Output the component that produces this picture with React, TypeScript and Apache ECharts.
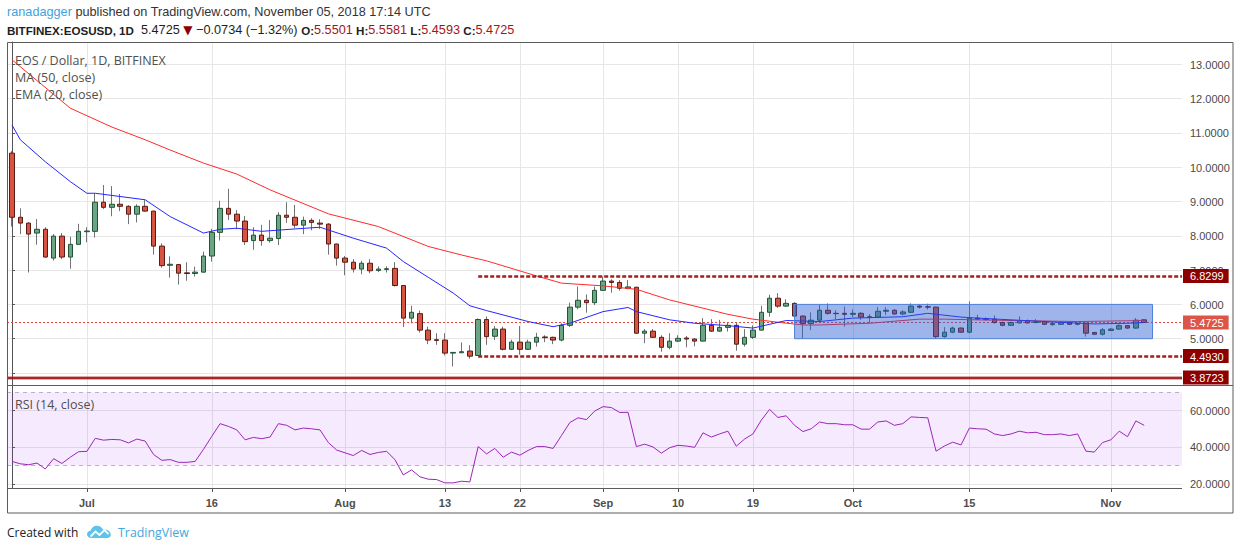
import React, { useEffect, useRef } from "react";
import * as echarts from "echarts";

// ---------- data ----------
const START_DATE = "2018-06-22";

// one row per day from START_DATE: [open, high, low, close]
const ohlc: number[][] = [
  // Jun 22 - Jun 30
  [10.41, 10.47, 8.27, 8.54], [8.54, 8.8, 8.05, 8.37], [8.37, 8.4, 6.93, 8.05], [8.08, 8.49, 7.74, 8.19],
  [8.19, 8.25, 7.36, 7.38], [7.35, 8.05, 7.28, 7.99], [7.99, 8.08, 7.32, 7.38], [7.38, 7.97, 7.04, 7.75],
  [7.75, 8.35, 7.74, 8.13],
  // Jul 1 - Jul 31
  [8.12, 8.25, 7.81, 8.14], [8.13, 9.24, 7.95, 8.98], [8.98, 9.48, 8.78, 8.83], [8.83, 9.45, 8.57, 8.92],
  [8.92, 9.22, 8.72, 8.86], [8.86, 8.89, 8.34, 8.63], [8.63, 8.92, 8.39, 8.86], [8.86, 9.04, 8.7, 8.72],
  [8.72, 8.73, 7.45, 7.7], [7.7, 7.78, 7.07, 7.13], [7.14, 7.4, 6.78, 7.17], [7.16, 7.18, 6.58, 6.91],
  [6.92, 7.23, 6.69, 6.9], [6.9, 7.1, 6.81, 6.94], [6.94, 7.54, 6.93, 7.41], [7.41, 8.2, 7.25, 8.1],
  [8.1, 9.02, 7.86, 8.8], [8.8, 9.37, 8.46, 8.63], [8.63, 8.75, 8.19, 8.43], [8.43, 8.58, 7.73, 7.83],
  [7.86, 8.25, 7.59, 8.02], [8.02, 8.32, 7.71, 7.86], [7.86, 8.46, 7.8, 7.93], [7.92, 8.69, 7.73, 8.6],
  [8.6, 8.98, 8.38, 8.54], [8.54, 8.9, 8.22, 8.31], [8.31, 8.56, 8.05, 8.45], [8.45, 8.51, 8.16, 8.39],
  [8.37, 8.48, 8.2, 8.34], [8.34, 8.37, 7.45, 7.76], [7.76, 7.77, 7.13, 7.35],
  // Aug 1 - Aug 31
  [7.35, 7.41, 6.85, 7.23], [7.23, 7.32, 6.93, 7.03], [7.03, 7.27, 6.88, 7.2], [7.2, 7.32, 6.91, 6.98],
  [6.99, 7.11, 6.94, 7.03], [7.02, 7.11, 6.93, 7.04], [7.05, 7.23, 6.52, 6.55], [6.55, 6.56, 5.34, 5.6],
  [5.6, 5.96, 5.45, 5.77], [5.73, 5.82, 5.18, 5.25], [5.25, 5.35, 4.84, 4.96], [4.97, 5.16, 4.82, 4.95],
  [4.96, 5.16, 4.51, 4.58], [4.58, 4.61, 4.19, 4.6], [4.59, 4.89, 4.58, 4.62], [4.64, 4.81, 4.42, 4.49],
  [4.51, 5.59, 4.5, 5.56], [5.56, 5.65, 4.82, 5.06], [5.07, 5.37, 4.96, 5.28], [5.28, 5.35, 4.66, 4.69],
  [4.69, 4.97, 4.67, 4.9], [4.9, 5.37, 4.53, 4.69], [4.69, 4.97, 4.67, 4.9], [4.9, 5.17, 4.77, 5.04],
  [5.05, 5.1, 4.9, 5.03], [5.04, 5.06, 4.84, 4.96], [4.96, 5.45, 4.92, 5.39], [5.39, 6.05, 5.34, 5.92],
  [5.92, 6.52, 5.86, 6.12], [6.12, 6.29, 5.76, 6.05], [6.05, 6.52, 5.98, 6.41],
  // Sep 1 - Sep 30
  [6.41, 6.81, 6.4, 6.68], [6.68, 6.73, 6.34, 6.64], [6.64, 6.71, 6.4, 6.47], [6.47, 6.71, 6.44, 6.51],
  [6.5, 6.51, 5.15, 5.16], [5.16, 5.28, 4.87, 5.22], [5.22, 5.28, 5.02, 5.04], [5.04, 5.1, 4.62, 4.75],
  [4.75, 5.16, 4.69, 4.93], [4.93, 5.1, 4.9, 5.01], [5.02, 5.08, 4.75, 4.99], [4.99, 5.01, 4.78, 4.93],
  [4.93, 5.6, 4.92, 5.39], [5.39, 5.57, 5.2, 5.22], [5.22, 5.55, 5.2, 5.33], [5.33, 5.47, 5.21, 5.39],
  [5.39, 5.47, 4.65, 4.84], [4.84, 5.28, 4.77, 5.04], [5.04, 5.39, 4.99, 5.25], [5.25, 5.96, 5.24, 5.77],
  [5.77, 6.28, 5.64, 6.18], [6.18, 6.33, 5.9, 5.95], [5.95, 6.15, 5.93, 6.03], [6.03, 6.06, 5.6, 5.66],
  [5.66, 5.68, 5.01, 5.44], [5.44, 5.77, 5.25, 5.54], [5.54, 5.99, 5.45, 5.83], [5.83, 6.03, 5.7, 5.74],
  [5.74, 5.83, 5.57, 5.73], [5.74, 5.94, 5.35, 5.71],
  // Oct 1 - Oct 31
  [5.71, 5.85, 5.63, 5.74], [5.74, 5.78, 5.55, 5.63], [5.64, 5.72, 5.46, 5.62], [5.63, 5.92, 5.6, 5.8],
  [5.8, 5.92, 5.69, 5.83], [5.83, 5.86, 5.7, 5.72], [5.72, 5.83, 5.68, 5.78], [5.77, 6.03, 5.75, 5.95],
  [5.95, 5.98, 5.88, 5.92], [5.93, 6.02, 5.85, 5.92], [5.92, 5.93, 5.0, 5.06], [5.06, 5.34, 5.03, 5.19],
  [5.19, 5.35, 5.16, 5.31], [5.31, 5.33, 5.17, 5.19], [5.19, 6.09, 5.16, 5.6], [5.6, 5.7, 5.54, 5.57],
  [5.58, 5.62, 5.52, 5.56], [5.57, 5.68, 5.44, 5.47], [5.47, 5.5, 5.36, 5.39], [5.39, 5.5, 5.37, 5.47],
  [5.46, 5.65, 5.44, 5.53], [5.53, 5.56, 5.44, 5.46], [5.47, 5.57, 5.45, 5.5], [5.5, 5.52, 5.4, 5.42],
  [5.41, 5.47, 5.38, 5.44], [5.42, 5.5, 5.4, 5.47], [5.47, 5.49, 5.4, 5.42], [5.42, 5.47, 5.39, 5.44],
  [5.45, 5.47, 5.06, 5.16], [5.18, 5.2, 5.11, 5.13], [5.13, 5.31, 5.09, 5.26],
  // Nov 1 - Nov 5
  [5.24, 5.31, 5.22, 5.28], [5.28, 5.42, 5.26, 5.38], [5.38, 5.4, 5.29, 5.31], [5.31, 5.6, 5.29, 5.54],
  [5.5501, 5.5581, 5.4593, 5.4725],
];

// MA (50, close): [date, value]
const ma50: [string, number][] = [
  ["2018-06-22", 13.13], ["2018-06-29", 11.72], ["2018-07-01", 11.5], ["2018-07-04", 11.17],
  ["2018-07-08", 10.8], ["2018-07-11", 10.5], ["2018-07-15", 10.12], ["2018-07-19", 9.8],
  ["2018-07-23", 9.34], ["2018-07-30", 8.64], ["2018-08-05", 8.27], ["2018-08-11", 7.69],
  ["2018-08-15", 7.44], ["2018-08-18", 7.27], ["2018-08-24", 6.83], ["2018-08-27", 6.62],
  ["2018-09-01", 6.54], ["2018-09-05", 6.44], ["2018-09-09", 6.13], ["2018-09-13", 5.89],
  ["2018-09-16", 5.71], ["2018-09-19", 5.57], ["2018-09-22", 5.48], ["2018-09-25", 5.4],
  ["2018-09-27", 5.4], ["2018-10-03", 5.45], ["2018-10-09", 5.57], ["2018-10-12", 5.57],
  ["2018-10-20", 5.53], ["2018-10-28", 5.5], ["2018-11-05", 5.53],
];

// EMA (20, close): [date, value]
const ema20: [string, number][] = [
  ["2018-06-22", 11.23], ["2018-06-23", 10.8], ["2018-06-26", 10.16], ["2018-06-29", 9.58],
  ["2018-07-01", 9.24], ["2018-07-02", 9.24], ["2018-07-08", 9.05], ["2018-07-11", 8.56],
  ["2018-07-15", 8.08], ["2018-07-17", 8.19], ["2018-07-19", 8.22], ["2018-07-22", 8.13],
  ["2018-07-26", 8.2], ["2018-07-29", 8.25], ["2018-08-02", 7.93], ["2018-08-06", 7.64],
  ["2018-08-08", 7.25], ["2018-08-11", 6.79], ["2018-08-14", 6.33], ["2018-08-16", 5.96],
  ["2018-08-18", 5.82], ["2018-08-23", 5.5], ["2018-08-26", 5.35], ["2018-08-28", 5.45],
  ["2018-09-01", 5.79], ["2018-09-04", 5.91], ["2018-09-05", 5.79], ["2018-09-09", 5.55],
  ["2018-09-12", 5.45], ["2018-09-16", 5.38], ["2018-09-19", 5.31], ["2018-09-23", 5.53],
  ["2018-09-27", 5.5], ["2018-10-01", 5.6], ["2018-10-07", 5.64], ["2018-10-10", 5.74],
  ["2018-10-14", 5.63], ["2018-10-16", 5.6], ["2018-10-24", 5.5], ["2018-10-30", 5.43],
  ["2018-11-03", 5.45], ["2018-11-05", 5.47],
];

// RSI (14, close), one value per day
const rsi: number[] = [
  32.3, 31.0, 30.5, 31.4, 28.2, 33.8, 31.2, 34.6, 37.6, 37.8,
  44.9, 43.9, 44.3, 44.1, 42.4, 44.5, 43.4, 36.1, 32.9, 33.3,
  31.8, 31.8, 32.3, 38.9, 46.0, 52.9, 51.4, 49.5, 44.1, 45.4,
  44.7, 45.6, 52.9, 52.0, 49.5, 50.5, 50.1, 49.5, 42.6, 38.5,
  37.0, 35.5, 38.3, 36.1, 37.2, 37.8, 33.3, 24.9, 27.7, 23.9,
  22.6, 22.4, 20.6, 20.6, 21.5, 21.1, 40.4, 36.4, 39.4, 34.6,
  37.4, 35.7, 38.3, 40.4, 40.4, 39.4, 46.4, 53.5, 56.1, 55.1,
  59.8, 62.2, 61.7, 59.0, 59.1, 40.4, 41.7, 40.2, 36.8, 39.8,
  41.1, 40.7, 40.0, 47.9, 45.6, 47.3, 48.8, 40.6, 44.5, 47.3,
  54.8, 60.7, 56.3, 57.2, 52.0, 48.6, 50.1, 53.8, 52.9, 52.9,
  52.3, 52.3, 49.9, 49.9, 53.8, 54.4, 52.0, 52.9, 56.6, 56.3,
  56.1, 37.9, 40.7, 42.8, 41.3, 50.5, 50.1, 49.9, 47.3, 46.4,
  47.3, 48.8, 47.9, 48.2, 46.9, 46.9, 47.3, 46.4, 47.3, 37.9,
  37.4, 42.6, 44.1, 48.8, 45.8, 54.4, 52.0,
];

const tickDates = [
  "2018-07-01", "2018-07-16", "2018-08-01", "2018-08-13", "2018-08-22", "2018-09-01",
  "2018-09-10", "2018-09-19", "2018-10-01", "2018-10-15", "2018-11-01",
];
const tickLabels = ["Jul", "16", "Aug", "13", "22", "Sep", "10", "19", "Oct", "15", "Nov"];
const priceTicks = [4, 5, 6, 7, 8, 9, 10, 11, 12, 13];
const priceLabels = [5, 6, 7, 8, 9, 10, 11, 12, 13];
const rsiTicks = [20, 40, 60];
const rsiBand = [30, 70];

const resistance = 6.8299;
const support = 4.493;
const lowLine = 3.8723;
const lastPrice = 5.4725;
const levelsStart = "2018-08-17";
const boxFrom = "2018-09-24";
const boxTo = "2018-11-06";
const boxTop = 6.0;
const boxBottom = 5.0;

// ---------- helpers ----------
const DAY = 86400000;
function utc(s: string) {
  const [y, m, d] = s.split("-").map(Number);
  return Date.UTC(y, m - 1, d);
}
const T0 = utc(START_DATE);
function dayIndex(s: string) {
  return Math.round((utc(s) - T0) / DAY);
}

const X_MIN = -0.6;
const X_MAX = 140.54;
const AXIS_FONT = '"Liberation Sans", Arial, sans-serif';
const UI_FONT = '"Open Sans", "Liberation Sans", sans-serif';

const LOGO_D =
  "M4.5,14 C2,14 0,12.3 0,10 C0,7.9 1.6,6.3 3.6,6.2 C4.2,3 6.9,0.8 10.1,0.8 C12.9,0.8 15.3,2.6 16.1,5.1 C16.8,4.8 17.6,4.7 18.4,4.8 C21.5,5.1 23.8,7.6 23.8,10.6 C23.8,12.5 22.3,14 20.4,14 Z";

function buildOption(): any {
  const tickIdx = tickDates.map(dayIndex);
  const bodyData = ohlc.map(([o, , , c], i) => [i, o, c, Math.min(o, c), Math.max(o, c)]);
  const wickData = ohlc.map(([o, h, l, c], i) => [i, o, c, l, h]);
  const near = (a: number, b: number) => Math.abs(a - b) < 1e-6;

  const priceLabel = (v: number) => {
    const t = v.toFixed(4);
    if (near(v, lastPrice)) return `{last|${t}}`;
    if (near(v, resistance) || near(v, support) || near(v, lowLine)) return `{lvl|${t}}`;
    return `{n|${t}}`;
  };
  const boxStyle = { color: "#ffffff", fontSize: 11, lineHeight: 12, padding: [2, 5, 1, 7], fontFamily: AXIS_FONT };

  const splitStyle = { show: true, lineStyle: { color: "#e6e6e6", width: 1 } };

  return {
    animation: false,
    backgroundColor: "#ffffff",
    grid: [
      { left: 7, top: 42, width: 1175, height: 343 },
      { left: 7, top: 385, width: 1175, height: 103 },
    ],
    xAxis: [
      {
        type: "value", gridIndex: 0, min: X_MIN, max: X_MAX,
        axisLine: { show: false },
        axisTick: { show: false, customValues: tickIdx },
        axisLabel: { show: false, customValues: tickIdx },
        splitLine: splitStyle,
      },
      {
        type: "value", gridIndex: 1, min: X_MIN, max: X_MAX,
        axisLine: { show: false },
        axisTick: { show: true, customValues: tickIdx, length: 4, lineStyle: { color: "#555" } },
        axisLabel: {
          customValues: tickIdx,
          formatter: (v: number) => tickLabels[tickIdx.indexOf(Math.round(v))] ?? "",
          color: "#4e4e4e", fontSize: 11, fontWeight: "bold", fontFamily: AXIS_FONT, margin: 9,
        },
        splitLine: splitStyle,
      },
    ],
    yAxis: [
      {
        type: "value", gridIndex: 0, position: "right", min: 3.65, max: 13.65,
        axisLine: { show: true, lineStyle: { color: "#555", width: 1 } },
        axisTick: { show: true, length: 3, customValues: priceTicks, lineStyle: { color: "#555" } },
        axisLabel: {
          customValues: [...priceLabels, lowLine, support, lastPrice, resistance],
          formatter: priceLabel,
          margin: 1,
          rich: {
            n: { color: "#4a4a4a", fontSize: 11, lineHeight: 12, padding: [2, 5, 1, 7], fontFamily: AXIS_FONT },
            lvl: { ...boxStyle, backgroundColor: "#8e0000" },
            last: { ...boxStyle, backgroundColor: "#dd5548" },
          },
        },
        splitLine: splitStyle,
      },
      {
        type: "value", gridIndex: 1, position: "right", min: 17.8, max: 74,
        axisLine: { show: true, lineStyle: { color: "#555", width: 1 } },
        axisTick: { show: true, length: 3, customValues: rsiTicks, lineStyle: { color: "#555" } },
        axisLabel: {
          customValues: rsiTicks,
          formatter: (v: number) => v.toFixed(4),
          color: "#4a4a4a", fontSize: 11, fontFamily: AXIS_FONT, margin: 8,
        },
        splitLine: splitStyle,
      },
    ],
    series: [
      {
        type: "candlestick", name: "wick", xAxisIndex: 0, yAxisIndex: 0,
        data: wickData, encode: { x: 0, y: [1, 2, 3, 4] },
        barWidth: 1, z: 2, silent: true,
        itemStyle: { color: "#737375", color0: "#737375", borderColor: "#737375", borderColor0: "#737375", borderWidth: 1 },
        markLine: {
          z: 1, silent: true, symbol: ["none", "none"], label: { show: false },
          data: [{ yAxis: lastPrice, lineStyle: { color: "#e5473c", type: [2, 2], width: 1 } }],
        },
      },
      {
        type: "candlestick", name: "EOS / Dollar", xAxisIndex: 0, yAxisIndex: 0,
        data: bodyData, encode: { x: 0, y: [1, 2, 3, 4] },
        barWidth: 5, z: 3, silent: true,
        itemStyle: { color: "#6ba583", color0: "#d75442", borderColor: "#225437", borderColor0: "#5b1a13", borderWidth: 1 },
      },
      {
        type: "line", name: "MA (50, close)", xAxisIndex: 0, yAxisIndex: 0,
        data: ma50.map(([d, v]) => [dayIndex(d), v]),
        showSymbol: false, symbol: "none", z: 4, silent: true,
        lineStyle: { color: "#ff2a2a", width: 1 },
        markLine: {
          z: 5, silent: true, symbol: ["none", "none"], label: { show: false },
          data: [
            [
              { coord: [dayIndex(levelsStart), resistance], lineStyle: { color: "#a51c1c", width: 2.5, type: [4, 2] } },
              { coord: [X_MAX, resistance] },
            ],
            [
              { coord: [dayIndex(levelsStart), support], lineStyle: { color: "#a51c1c", width: 2.5, type: [4, 2] } },
              { coord: [X_MAX, support] },
            ],
            { yAxis: lowLine, lineStyle: { color: "rgba(190,60,60,0.45)", width: 4, type: "solid" } },
            { yAxis: lowLine, lineStyle: { color: "#8e0000", width: 1.5, type: "solid" } },
          ],
        },
      },
      {
        type: "line", name: "EMA (20, close)", xAxisIndex: 0, yAxisIndex: 0,
        data: ema20.map(([d, v]) => [dayIndex(d), v]),
        showSymbol: false, symbol: "none", z: 4, silent: true,
        lineStyle: { color: "#2626ff", width: 1 },
        markArea: {
          z: 10, silent: true,
          itemStyle: { color: "rgba(40,90,210,0.45)", borderColor: "#4f7fd8", borderWidth: 1 },
          data: [[{ coord: [dayIndex(boxFrom), boxTop] }, { coord: [dayIndex(boxTo), boxBottom] }]],
        },
      },
      {
        type: "line", name: "RSI (14, close)", xAxisIndex: 1, yAxisIndex: 1,
        data: rsi.map((v, i) => [i, v]),
        showSymbol: false, symbol: "none", z: 4, silent: true,
        lineStyle: { color: "#9b26b6", width: 1 },
        markArea: {
          z: 1, silent: true,
          itemStyle: { color: "rgba(153,21,255,0.09)" },
          data: [[{ yAxis: rsiBand[0] }, { yAxis: rsiBand[1] }]],
        },
        markLine: {
          z: 2, silent: true, symbol: ["none", "none"], label: { show: false },
          lineStyle: { color: "#bcaec6", width: 1, type: [4, 4] },
          data: [{ yAxis: rsiBand[1] }, { yAxis: rsiBand[0] }],
        },
      },
    ],
    graphic: [
      // frame
      { type: "rect", z: 50, silent: true, shape: { x: 7.5, y: 42.5, width: 1225.5, height: 470.5 }, style: { fill: "none", stroke: "#5c5c5c", lineWidth: 1 } },
      { type: "line", z: 50, silent: true, shape: { x1: 7, y1: 385.5, x2: 1233, y2: 385.5 }, style: { stroke: "#5c5c5c", lineWidth: 1 } },
      { type: "line", z: 50, silent: true, shape: { x1: 7, y1: 488.5, x2: 1182, y2: 488.5 }, style: { stroke: "#5c5c5c", lineWidth: 1 } },
      // header
      {
        type: "text", x: 7, y: 12, z: 60,
        style: {
          text: "{u|ranadagger}{t| published on TradingView.com, November 05, 2018 17:14 UTC}",
          verticalAlign: "middle",
          rich: {
            u: { fill: "#3ea3dc", fontSize: 12.7, fontFamily: AXIS_FONT },
            t: { fill: "#333333", fontSize: 12.7, fontFamily: AXIS_FONT },
          },
        },
      },
      {
        type: "text", x: 7, y: 30, z: 60,
        style: {
          text: "{b|BITFINEX:EOSUSD, 1D}{n|  5.4725 }{tri|▼}{n| −0.0734 (−1.32%) }{b|O:}{r|5.5501}{b| H:}{r|5.5581}{b| L:}{r|5.4593}{b| C:}{r|5.4725}",
          verticalAlign: "middle",
          rich: {
            b: { fill: "#1e1e1e", fontSize: 11.6, fontWeight: "bold", fontFamily: AXIS_FONT },
            n: { fill: "#1e1e1e", fontSize: 12.7, fontFamily: AXIS_FONT },
            tri: { fill: "#8e0000", fontSize: 12, fontFamily: '"DejaVu Sans", sans-serif' },
            r: { fill: "#a31515", fontSize: 12.7, fontFamily: AXIS_FONT },
          },
        },
      },
      // pane legends
      { type: "text", x: 15, y: 60, z: 60, style: { text: "EOS / Dollar, 1D, BITFINEX", fill: "#4f4f4f", fontSize: 12.5, fontFamily: UI_FONT, verticalAlign: "middle" } },
      { type: "text", x: 15, y: 77, z: 60, style: { text: "MA (50, close)", fill: "#4f4f4f", fontSize: 12.5, fontFamily: UI_FONT, verticalAlign: "middle" } },
      { type: "text", x: 15, y: 94, z: 60, style: { text: "EMA (20, close)", fill: "#4f4f4f", fontSize: 12.5, fontFamily: UI_FONT, verticalAlign: "middle" } },
      { type: "text", x: 15, y: 404, z: 60, style: { text: "RSI (14, close)", fill: "#4f4f4f", fontSize: 12.5, fontFamily: UI_FONT, verticalAlign: "middle" } },
      // footer
      { type: "text", x: 7, y: 532, z: 60, style: { text: "Created with", fill: "#222222", fontSize: 12, fontFamily: UI_FONT, verticalAlign: "middle" } },
      { type: "tvlogo", x: 87, y: 525, z: 60, scaleX: 1.0, scaleY: 0.93, style: { fill: "#5cc3ec" } },
      {
        type: "polyline", z: 61, x: 87, y: 525,
        shape: { points: [[3.5, 11.5], [8.5, 6.5], [12.5, 10], [17.5, 5], [21.5, 9]] },
        style: { stroke: "#ffffff", lineWidth: 1.8, fill: "none" },
      },
      { type: "text", x: 118, y: 532, z: 60, style: { text: "TradingView", fill: "#45a7dd", fontSize: 12.4, fontFamily: UI_FONT, verticalAlign: "middle" } },
    ],
  };
}

let registered = false;
function registerLogo() {
  if (registered) return;
  echarts.graphic.registerShape("tvlogo", echarts.graphic.extendPath(LOGO_D, {}) as any);
  registered = true;
}

export default function App() {
  const ref = useRef<HTMLDivElement>(null);
  useEffect(() => {
    registerLogo();
    const el = ref.current as HTMLDivElement;
    const chart = echarts.init(el, null, { renderer: "svg", width: 1240, height: 550 });
    chart.setOption(buildOption());
    return () => chart.dispose();
  }, []);
  return (
    <div
      ref={ref}
      style={{ position: "fixed", left: 0, top: 0, width: 1240, height: 550, background: "#ffffff" }}
    />
  );
}
